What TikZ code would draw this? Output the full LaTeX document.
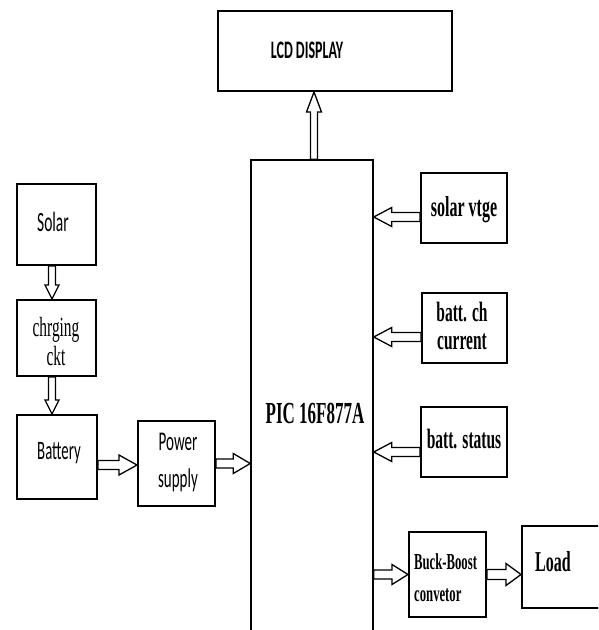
\documentclass[tikz,border=0pt]{standalone}
\usepackage{fontspec}
\usepackage{graphicx}
\usetikzlibrary{calc}
\newfontfamily\carl{Carlito}
\newfontfamily\tms{Liberation Serif}
\newcommand{\stretchy}[1]{\scalebox{1}[1.8]{#1}}
\newcommand{\barrow}[5]{%
  \draw[blockarr] let \p1=(#1), \p2=(#2),
    \n1={veclen(\x2-\x1,\y2-\y1)}, \n2={atan2(\y2-\y1,\x2-\x1)} in
    [shift={(\p1)}, rotate=\n2]
    (0,#3) -- (\n1-#5,#3) -- (\n1-#5,#4) -- (\n1,0) -- (\n1-#5,-#4)
    -- (\n1-#5,-#3) -- (0,-#3) -- cycle;}
\tikzset{
  box/.style={draw, line width=2pt, inner sep=0pt, anchor=center, fill=white},
  thinbox/.style={draw, line width=1.5pt, inner sep=0pt, anchor=center, fill=white},
  blockarr/.style={draw, line width=1.3pt, fill=white, line join=miter}
}
\begin{document}
\begin{tikzpicture}[x=1pt,y=-1pt]
\useasboundingbox (0,0) rectangle (598,630);
\clip (0,0) rectangle (598,630);
% boxes
\node[box, minimum width=234pt, minimum height=80pt] (lcd) at (335,51) {};
\node (lcdtext) at (307,50)
  {\stretchy{\carl\bfseries\fontsize{14}{17}\selectfont LCD DISPLAY}};
\node[thinbox, minimum width=122pt, minimum height=500pt] (pic) at (312,410) {};
\node[font=\tms\bfseries\fontsize{17}{20}\selectfont] (pictext) at (315,413)
  {\stretchy{PIC 16F877A}};
\node[box, minimum width=79pt, minimum height=81pt] (solar) at (56.5,224.5) {};
\node (solartext) at (53,222) {\stretchy{\carl\fontsize{15.5}{18}\selectfont Solar}};
\node[box, minimum width=79pt, minimum height=76pt] (chrg) at (56.5,338) {};
\node (chrgtext) at (56,345) {\stretchy{\tms\fontsize{15.4}{16.5}\selectfont
  \begin{tabular}{@{}c@{}}chrging\\ckt\end{tabular}}};
\node[box, minimum width=80pt, minimum height=84pt] (batt) at (57,457) {};
\node (batttext) at (59,453) {\stretchy{\carl\fontsize{14.8}{18}\selectfont Battery}};
\node[box, minimum width=77pt, minimum height=85pt] (ps) at (176.5,463.5) {};
\node (pstext) at (178,462) {\stretchy{\carl\fontsize{15}{20.5}\selectfont
  \begin{tabular}{@{}c@{}}Power\\supply\end{tabular}}};
\node[box, minimum width=86pt, minimum height=70pt] (sv) at (464,208) {};
\node (svtext) at (464,210) {\stretchy{\tms\bfseries\fontsize{16}{18}\selectfont solar vtge}};
\node[box, minimum width=85pt, minimum height=70pt] (bc) at (464.5,328) {};
\node (bctext) at (462,330) {\stretchy{\tms\bfseries\fontsize{15.5}{15.5}\selectfont
  \begin{tabular}{@{}c@{}}batt. ch\\current\end{tabular}}};
\node[box, minimum width=86pt, minimum height=70pt] (bs) at (464,442) {};
\node (bstext) at (464,439) {\stretchy{\tms\bfseries\fontsize{15.5}{18}\selectfont batt. status}};
\node[box, minimum width=77pt, minimum height=85pt] (bb) at (447.5,574.5) {};
\node[anchor=west, inner sep=0pt] (bbtext) at (414,579) {\stretchy{\tms\bfseries\fontsize{12.7}{17.8}\selectfont
  \begin{tabular}{@{}l@{}}Buck-Boost\\convetor\end{tabular}}};
\node[box, minimum width=100pt, minimum height=82pt] (load) at (572,567) {};
\node[anchor=west, inner sep=0pt] (loadtext) at (535,562) {\stretchy{\tms\bfseries\fontsize{16}{18}\selectfont Load}};
% arrow end points
\coordinate (a1s) at ([xshift=2pt]pic.north);
\coordinate (a1e) at (a1s |- lcd.south);
\coordinate (a2s) at ([xshift=-4.5pt]solar.south);
\coordinate (a2e) at (a2s |- chrg.north);
\coordinate (a3s) at ([xshift=-4.5pt]chrg.south);
\coordinate (a3e) at (a3s |- batt.north);
\coordinate (a4s) at ([yshift=-8pt]batt.east);
\coordinate (a4e) at (a4s -| ps.west);
\coordinate (a5s) at (ps.east);
\coordinate (a5e) at (a5s -| pic.west);
\coordinate (a6s) at ([yshift=-9pt]sv.west);
\coordinate (a6e) at (a6s -| pic.east);
\coordinate (a7s) at ([yshift=-9pt]bc.west);
\coordinate (a7e) at (a7s -| pic.east);
\coordinate (a8s) at ([yshift=-10pt]bs.west);
\coordinate (a8e) at (a8s -| pic.east);
\coordinate (a9e) at (bb.west);
\coordinate (a9s) at (a9e -| pic.east);
\coordinate (a10s) at (bb.east);
\coordinate (a10e) at (a10s -| load.west);
% arrows
\barrow{a1s}{a1e}{3.5}{7.5}{20}
\barrow{a2s}{a2e}{3.5}{7}{14}
\barrow{a3s}{a3e}{3.5}{7}{14}
\barrow{a4s}{a4e}{4.5}{10}{18}
\barrow{a5s}{a5e}{4.5}{10}{17}
\barrow{a6s}{a6e}{4.5}{9.5}{18}
\barrow{a7s}{a7e}{4.5}{9.5}{18}
\barrow{a8s}{a8e}{4.5}{9.5}{18}
\barrow{a9s}{a9e}{4.5}{10}{16}
\barrow{a10s}{a10e}{5}{11}{15}
\end{tikzpicture}
\end{document}
